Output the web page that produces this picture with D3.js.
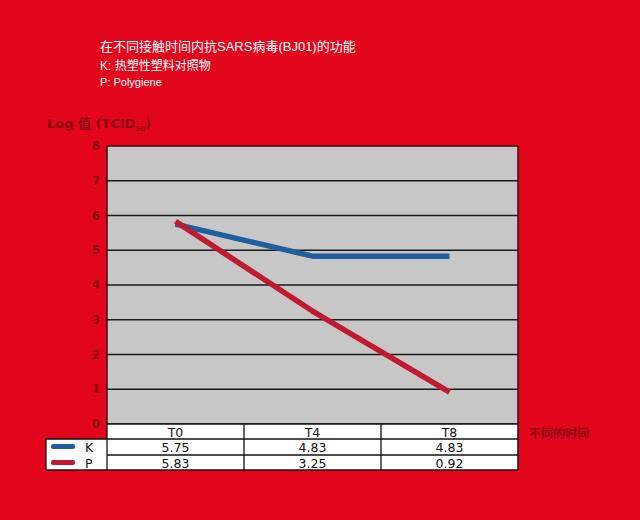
<!DOCTYPE html>
<html><head><meta charset="utf-8">
<script src="https://cdn.jsdelivr.net/npm/d3@7"></script>
<style>body{margin:0;background:#e3051b;}svg{display:block}</style>
</head><body>
<svg id="c" width="640" height="520"></svg>
<script>
const categories = ["T0","T4","T8"];
const seriesNames = ["K","P"];
const kValues = [5.75, 4.83, 4.83];
const pValues = [5.83, 3.25, 0.92];
const yTicks = [0,1,2,3,4,5,6,7,8];
const titleLines = ["在不同接触时间内抗SARS病毒(BJ01)的功能","K: 热塑性塑料对照物","P: Polygiene"];
const yLabel = "Log 值 (TCID";
const xLabel = "不同的时间";

const colors = {K:"#1f5fa0", P:"#c01a32"};
const svg = d3.select("#c");
const bg = "#e3051b", dark = "#8a0812";
svg.append("rect").attr("width",640).attr("height",520).attr("fill",bg);

const L=107, R=518, T=146, B=424;
const x = d3.scaleBand().domain(categories).range([L,R]);
const y = d3.scaleLinear().domain([0,8]).range([B,T]);

// title
const tf = "'Liberation Sans','Noto Sans CJK SC',sans-serif";
titleLines.forEach((t,i)=>{
  svg.append("text").attr("x",100).attr("y",[51,70,86][i]).attr("fill","#fff")
    .attr("font-family",tf).attr("font-size",[13,12,11][i]).text(t);
});

// plot area
svg.append("rect").attr("x",L).attr("y",T).attr("width",R-L).attr("height",B-T).attr("fill","#c7c7c7");
// grid
svg.append("g").selectAll("line").data(yTicks.filter(d=>d>0&&d<8)).join("line")
  .attr("x1",L).attr("x2",R).attr("y1",d=>y(d)).attr("y2",d=>y(d))
  .attr("stroke","#1a1a1a").attr("stroke-width",1.3);
svg.append("rect").attr("x",L).attr("y",T).attr("width",R-L).attr("height",B-T)
  .attr("fill","none").attr("stroke","#3a0a0e").attr("stroke-width",1.5);

// y axis
const ya = d3.axisLeft(y).tickValues(yTicks).tickSize(0).tickPadding(7);
const gy = svg.append("g").attr("transform",`translate(${L},0)`).call(ya);
gy.select(".domain").remove();
gy.selectAll("text").attr("fill",dark).attr("font-family","'DejaVu Sans',sans-serif").attr("font-size",11.5).attr("font-weight","bold");

// y label
const yl = svg.append("text").attr("x",47).attr("y",128).attr("fill",dark)
  .attr("font-family","'DejaVu Sans','Noto Sans CJK SC',sans-serif").attr("font-size",13).attr("font-weight","bold");
yl.append("tspan").text(yLabel);
yl.append("tspan").attr("font-size",7).attr("dy",3).text("50");
yl.append("tspan").attr("dy",-3).text(")");

// lines
const line = d3.line().x((d,i)=>x(categories[i])+x.bandwidth()/2).y(d=>y(d));
[["K",kValues],["P",pValues]].forEach(([n,v])=>{
  svg.append("path").attr("d",line(v)).attr("fill","none").attr("stroke",colors[n])
    .attr("stroke-width",5.5).attr("stroke-linejoin","round");
});

// table
const rowY = [424,439,455,470];
const tg = svg.append("g");
tg.append("rect").attr("x",L).attr("y",rowY[0]).attr("width",R-L).attr("height",rowY[3]-rowY[0]).attr("fill","#fff");
tg.append("rect").attr("x",46).attr("y",rowY[1]).attr("width",L-46).attr("height",rowY[3]-rowY[1]).attr("fill","#fff");
const ls = "#111";
[[L,R,rowY[0]],[46,R,rowY[1]],[L,R,rowY[2]],[46,R,rowY[3]]].forEach(([a,b,yy])=>{
  tg.append("line").attr("x1",a).attr("x2",b).attr("y1",yy).attr("y2",yy).attr("stroke",ls).attr("stroke-width",1.3);
});
tg.append("line").attr("x1",46).attr("x2",46).attr("y1",rowY[1]).attr("y2",rowY[3]).attr("stroke",ls).attr("stroke-width",1.3);
categories.forEach((c,i)=>{
  const xx = x(c);
  tg.append("line").attr("x1",xx).attr("x2",xx).attr("y1",rowY[0]).attr("y2",rowY[3]).attr("stroke",ls).attr("stroke-width",1.3);
});
tg.append("line").attr("x1",R).attr("x2",R).attr("y1",rowY[0]).attr("y2",rowY[3]).attr("stroke",ls).attr("stroke-width",1.5);

const ff = "'DejaVu Sans',sans-serif";
categories.forEach((c,i)=>{
  const cx = x(c)+x.bandwidth()/2;
  tg.append("text").attr("x",cx).attr("y",rowY[0]+12.5).attr("text-anchor","middle").attr("font-family",ff).attr("font-size",12.5).attr("fill","#111").text(c);
  tg.append("text").attr("x",cx).attr("y",rowY[1]+12.5).attr("text-anchor","middle").attr("font-family",ff).attr("font-size",12.5).attr("fill","#111").text(kValues[i].toFixed(2));
  tg.append("text").attr("x",cx).attr("y",rowY[2]+12.5).attr("text-anchor","middle").attr("font-family",ff).attr("font-size",12.5).attr("fill","#111").text(pValues[i].toFixed(2));
});
seriesNames.forEach((n,i)=>{
  const yy = rowY[1+i];
  tg.append("rect").attr("x",51).attr("y",yy+5).attr("width",24).attr("height",5).attr("rx",2).attr("fill",colors[n]);
  tg.append("text").attr("x",85).attr("y",yy+12.5).attr("font-family",ff).attr("font-size",12.5).attr("fill","#111").text(n);
});

// x label
svg.append("text").attr("x",529).attr("y",438).attr("fill",dark)
  .attr("font-family","'Noto Sans CJK SC',sans-serif").attr("font-size",12).attr("font-weight","bold").text(xLabel);
</script>
</body></html>
